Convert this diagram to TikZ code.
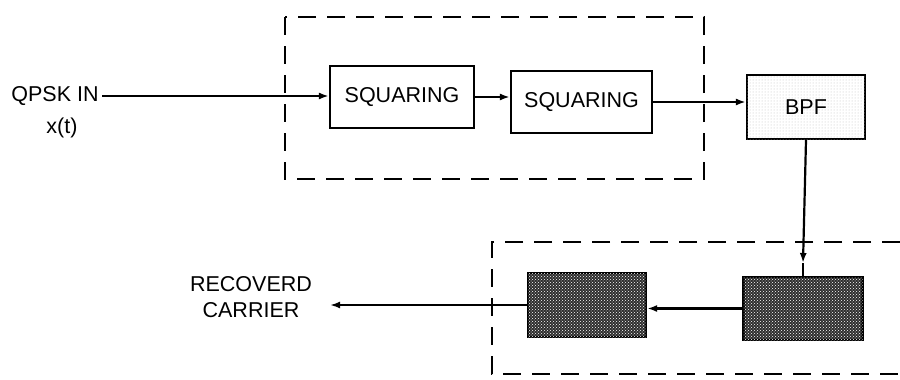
\documentclass[tikz,border=0pt]{standalone}
\usepackage{fontspec}
\setmainfont{Liberation Sans}
\usetikzlibrary{arrows.meta,patterns}
\begin{document}
\begin{tikzpicture}[x=1pt,y=-1pt,
  every node/.style={font=\fontsize{21.5}{26}\selectfont},
  block/.style={draw,line width=2.2pt,inner sep=0pt},
  darkblock/.style={block,fill=black!82,postaction={pattern=crosshatch dots,pattern color=white}},
  lightblock/.style={block,fill=white,postaction={pattern=dots,pattern color=black!25}},
  conn/.style={line width=2.2pt},
  arr/.style={conn,-{Latex[length=10pt,width=7pt]}},
  frame/.style={line width=2pt,dash pattern=on 18pt off 11pt}]
\useasboundingbox (0,0) rectangle (900,380);
\fill[white] (0,0) rectangle (900,380);
% dashed frames
\draw[frame] (285,17) rectangle (704,179);
\draw[frame] (900,242) -- (492,242) -- (492,374) -- (900,374);
% blocks
\node[block,minimum width=144pt,minimum height=62pt] (sq1) at (402,97) {SQUARING};
\node[block,minimum width=141pt,minimum height=62pt] (sq2) at (581.5,102) {SQUARING};
\node[lightblock,minimum width=118pt,minimum height=64pt] (bpf) at (806,107) {BPF};
\node[darkblock,minimum width=119pt,minimum height=63pt] (rbox) at (803,308.5) {};
\node[darkblock,minimum width=118pt,minimum height=64pt] (lbox) at (587,305) {};
% labels
\node (qpsk) at (55,96) {QPSK IN};
\node (xt) at (62,128) {x(t)};
\node[align=center] (rc) at (251,297) {RECOVERD\\CARRIER};
\coordinate (rcend) at (330,305);
\coordinate (tip) at (803,263);
% connectors
\draw[arr] (qpsk.east) -- (qpsk.east -| sq1.west);
\draw[arr] (sq1.east) -- (sq1.east -| sq2.west);
\draw[arr] (sq2.east) -- (sq2.east -| bpf.west);
\draw[arr] (bpf.south) -- (tip);
\draw[conn] (tip) -- (rbox.north);
\draw[arr] (rbox.west) -- (rbox.west -| lbox.east);
\draw[arr] (lbox.west) -- (rcend);
\end{tikzpicture}
\end{document}
